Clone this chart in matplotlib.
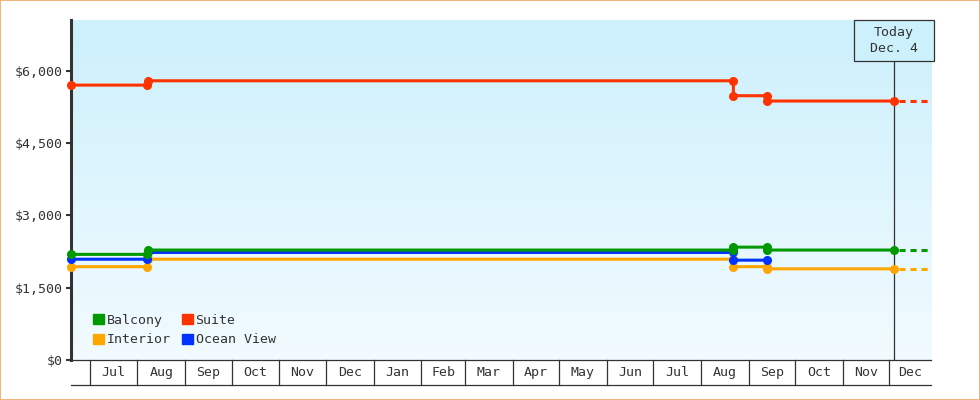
import matplotlib
matplotlib.use('Agg')
import matplotlib.pyplot as plt
import matplotlib.dates as mdates
import matplotlib.transforms as mtransforms
from matplotlib.colors import LinearSegmentedColormap
from matplotlib.patches import Patch, Rectangle
import numpy as np
import pandas as pd

# price history (each change is logged with the old and the new price)
change_dates = pd.to_datetime(['2024-06-19', '2024-08-07', '2024-08-08', '2025-08-22',
                               '2025-08-22', '2025-09-13', '2025-09-13', '2025-12-04'])
balcony_prices = [2190, 2190, 2280, 2280, 2340, 2340, 2280, 2280]
suite_prices = [5700, 5700, 5790, 5790, 5480, 5480, 5370, 5370]
interior_prices = [1935, 1935, 2090, 2090, 1935, 1935, 1890, 1890]
ocean_dates = change_dates[:6]
ocean_prices = [2090, 2090, 2230, 2230, 2070, 2070]

today = pd.Timestamp('2025-12-04')
x_start = pd.Timestamp('2024-06-19')
x_end = pd.Timestamp('2025-12-28')
month_starts = pd.date_range('2024-07-01', '2025-12-01', freq='MS')
month_labels = ['Jul', 'Aug', 'Sep', 'Oct', 'Nov', 'Dec', 'Jan', 'Feb', 'Mar',
                'Apr', 'May', 'Jun', 'Jul', 'Aug', 'Sep', 'Oct', 'Nov', 'Dec']
y_ticks = [0, 1500, 3000, 4500, 6000]

colors = {'Balcony': '#009900', 'Suite': '#ff3300',
          'Interior': '#ffa500', 'Ocean View': '#0033ff'}
ink = '#333333'
plt.rcParams['font.family'] = ['DejaVu Sans Mono']
plt.rcParams['font.size'] = 9.5

fig = plt.figure(figsize=(9.8, 4), dpi=100)
ax = fig.add_axes([71 / 980, 40 / 400, 860 / 980, 340 / 400])

# gradient background
grad = LinearSegmentedColormap.from_list('bg', ['#f2fbff', '#ccf0fc'])
ax.imshow(np.linspace(1, 0, 256).reshape(-1, 1), cmap=grad, aspect='auto',
          extent=[0, 1, 0, 1], transform=ax.transAxes, zorder=0)

line_kw = dict(lw=2.2, marker='o', ms=5.5, clip_on=False, zorder=3)
dash_kw = dict(lw=2.2, linestyle=(0, (2, 1.6)), zorder=3)

ax.plot(change_dates, interior_prices, color=colors['Interior'], **line_kw)
ax.plot(ocean_dates, ocean_prices, color=colors['Ocean View'], **line_kw)
ax.plot(change_dates, balcony_prices, color=colors['Balcony'], **line_kw)
ax.plot(change_dates, suite_prices, color=colors['Suite'], **line_kw)
for name, prices in [('Interior', interior_prices), ('Balcony', balcony_prices),
                     ('Suite', suite_prices)]:
    ax.plot([today + pd.Timedelta(days=3), x_end], [prices[-1], prices[-1]],
            color=colors[name], **dash_kw)

ax.set_xlim(x_start, x_end)
ax.set_ylim(0, 7050)

# axes styling
for s in ['top', 'right']:
    ax.spines[s].set_visible(False)
ax.spines['left'].set_linewidth(2.2)
ax.spines['left'].set_color(ink)
ax.spines['bottom'].set_linewidth(0.9)
ax.spines['bottom'].set_color(ink)
ax.set_yticks(y_ticks)
ax.set_yticklabels(['$' + format(v, ',') for v in y_ticks])
ax.tick_params(axis='y', length=3.6, width=1.5, color=ink, labelcolor=ink, pad=2)
ax.set_xticks([])

# month boxes under the plot
trans = mtransforms.blended_transform_factory(ax.transData, ax.transAxes)
box_h = 25 / 340
for m in month_starts:
    ax.plot([m, m], [0, -box_h], color=ink, lw=0.9, transform=trans, clip_on=False)
ax.plot([0, 1], [-box_h, -box_h], color=ink, lw=0.9, transform=ax.transAxes, clip_on=False)
edges = list(month_starts) + [x_end]
for i, lab in enumerate(month_labels):
    mid = edges[i] + (edges[i + 1] - edges[i]) / 2
    ax.text(mid, -box_h / 2, lab, transform=trans, ha='center', va='center', color=ink)

# today marker
box_bottom = 1 - 41 / 340
ax.plot([today, today], [0, box_bottom], color=ink, lw=0.9, transform=trans, zorder=2)
t = mdates.date2num(today)
ax.add_patch(Rectangle((t - 25.8, box_bottom), 51.6, 1 - box_bottom, transform=trans,
                       facecolor='#ccf0fc', edgecolor=ink, lw=0.9, clip_on=False, zorder=4))
ax.text(today, (1 + box_bottom) / 2, 'Today\nDec. 4', transform=trans, ha='center',
        va='center', linespacing=1.3, color=ink, zorder=5)

# legend
handles = [Patch(color=colors[n], label=n) for n in ['Balcony', 'Interior', 'Suite', 'Ocean View']]
leg = ax.legend(handles=handles, ncol=2, loc='lower left', bbox_to_anchor=(0.026, 0.04),
                frameon=False, handlelength=0.8, handleheight=0.8, handletextpad=0.2,
                columnspacing=0.9, labelspacing=0.5, borderpad=0, borderaxespad=0)
for txt in leg.get_texts():
    txt.set_color(ink)

# orange frame around the whole picture
fig.patches.append(Rectangle((0.0005, 0.001), 0.999, 0.998, transform=fig.transFigure,
                             fill=False, edgecolor='#f0a860', lw=1.2))

fig.savefig('out.png', dpi=100)
